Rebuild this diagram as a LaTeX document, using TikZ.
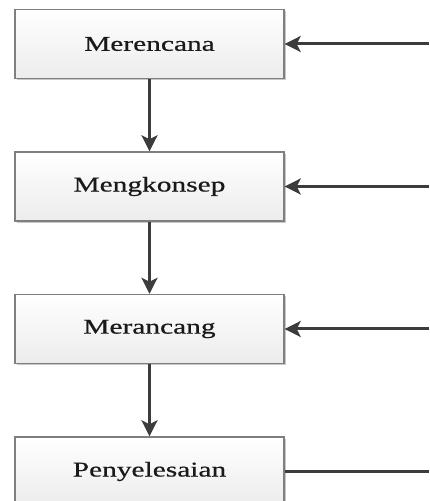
\documentclass[tikz,border=0pt]{standalone}
\usepackage{fontspec}
\usetikzlibrary{arrows.meta}
\usetikzlibrary{shadows}
\newfontfamily\stagefont[FakeStretch=1.4, FakeBold=0.6]{Liberation Serif}
\definecolor{stgborder}{HTML}{7F7F7F}
\definecolor{stgtop}{HTML}{FFFFFF}
\definecolor{stgbottom}{HTML}{ECECEC}
\definecolor{stgshadow}{HTML}{C8C8C8}
\definecolor{stgink}{HTML}{1A1A1A}
\definecolor{stgline}{HTML}{3C3C3C}
\tikzset{
  stagebox/.style={
    draw=stgborder, line width=1.4pt, top color=stgtop, bottom color=stgbottom,
    minimum width=269pt, minimum height=69pt, inner sep=0pt,
    font=\stagefont\fontsize{21}{24}\selectfont, text=stgink,
    drop shadow={shadow xshift=2pt, shadow yshift=-2pt, fill=stgshadow,
      opacity=1}},
  stagearrow/.style={-{Stealth[length=16pt, width=16pt, inset=4pt]},
    draw=stgline, line width=3pt},
  stageline/.style={draw=stgline, line width=3pt},
}

\begin{document}
\begin{tikzpicture}[x=1pt, y=1pt]
\useasboundingbox (0, 0) rectangle (429, 501);

% Stages, top to bottom.
\node[stagebox] (merencana) at (149.5, 457) {Merencana};
\node[stagebox] (mengkonsep) at (149.5, 314.5) {Mengkonsep};
\node[stagebox] (merancang) at (149.5, 172) {Merancang};
\node[stagebox] (penyelesaian) at (149.5, 29.5) {Penyelesaian};

% Downward flow.
\draw[stagearrow] (merencana) -- (mengkonsep);
\draw[stagearrow] (mengkonsep) -- (merancang);
\draw[stagearrow] (merancang) -- (penyelesaian);

% Feedback lines from the right edge.
\coordinate (fb1) at (429, 457);
\coordinate (fb2) at (429, 314.5);
\coordinate (fb3) at (429, 172);
\coordinate (fb4) at (429, 29.5);
\draw[stagearrow] (fb1) -- (merencana);
\draw[stagearrow] (fb2) -- (mengkonsep);
\draw[stagearrow] (fb3) -- (merancang);
\draw[stageline] (penyelesaian) -- (fb4);

\end{tikzpicture}
\end{document}
